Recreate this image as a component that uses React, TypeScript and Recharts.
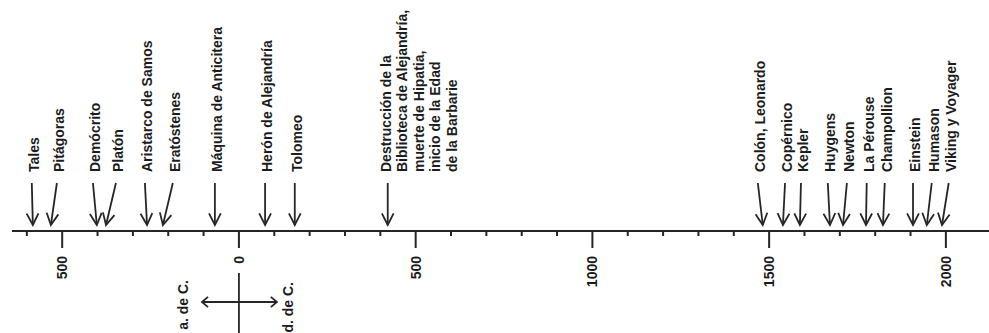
import { ComposedChart, XAxis, YAxis, ReferenceLine } from "recharts";

// events on the timeline (negative = a. de C.)
const EVENT_LABELS: string[][] = [
  ["Tales"],
  ["Pitágoras"],
  ["Demócrito"],
  ["Platón"],
  ["Aristarco de Samos"],
  ["Eratóstenes"],
  ["Máquina de Anticitera"],
  ["Herón de Alejandría"],
  ["Tolomeo"],
  ["Destrucción de la", "Biblioteca de Alejandría,", "muerte de Hipatia,", "inicio de la Edad", "de la Barbarie"],
  ["Colón, Leonardo"],
  ["Copérnico"],
  ["Kepler"],
  ["Huygens"],
  ["Newton"],
  ["La Pérouse"],
  ["Champollion"],
  ["Einstein"],
  ["Humason"],
  ["Viking y Voyager"],
];
// year the arrow points at
const EVENT_YEARS = [-583, -532, -402, -376, -260, -215, -68, 74, 158, 421, 1482, 1539, 1587, 1672, 1709, 1774, 1822, 1907, 1946, 1989];
// year where the label (and arrow tail) sits
const LABEL_YEARS = [-586, -515, -413, -348, -266, -187, -68, 74, 158, 421, 1468, 1545, 1590, 1666, 1720, 1776, 1827, 1907, 1960, 2008];

const TICK_YEARS = [-600, -500, -400, -300, -200, -100, 0, 100, 200, 300, 400, 500, 600, 700, 800, 900, 1000, 1100, 1200, 1300, 1400, 1500, 1600, 1700, 1800, 1900, 2000];
const DOMAIN: [number, number] = [-642, 2122];

const INK = "#262626";
const FONT = "'Liberation Sans', Arial, Helvetica, sans-serif";

const TIP_Y = 6;
const TAIL_Y = 48;

const data = EVENT_YEARS.map((year, i) => ({ year, labelYear: LABEL_YEARS[i], lines: EVENT_LABELS[i] }));

function head(x1: number, y1: number, x2: number, y2: number, len = 13, spread = 0.47) {
  const a = Math.atan2(y1 - y2, x1 - x2);
  const p1 = [x2 + len * Math.cos(a + spread), y2 + len * Math.sin(a + spread)];
  const p2 = [x2 + len * Math.cos(a - spread), y2 + len * Math.sin(a - spread)];
  return `M${p1[0]},${p1[1]} L${x2},${y2} L${p2[0]},${p2[1]}`;
}

function Arrow(props: any) {
  const { x1, y1, x2, y2, lines } = props;
  if (x1 == null) return null;
  const dx = lines.length > 1 ? -2 : 2;
  return (
    <g>
      <line x1={x1} y1={y1} x2={x2} y2={y2} stroke={INK} strokeWidth={1.8} />
      <path d={head(x1, y1, x2, y2)} fill="none" stroke={INK} strokeWidth={1.8} />
      <g transform={`translate(${x1 + dx},${y1 - 11}) rotate(-90)`}>
        {lines.map((l: string, i: number) => (
          <text key={i} x={0} y={i * 16.5} dy="0.35em" textAnchor="start" fontFamily={FONT} fontWeight="bold" fontSize={14} fill="#1c1c1c">
            {l}
          </text>
        ))}
      </g>
    </g>
  );
}

function Era({ x, y }: { x: number; y: number }) {
  const hy = y + 71;
  return (
    <g stroke={INK} strokeWidth={1.8} fill="none">
      <line x1={x} y1={y + 42} x2={x} y2={y + 104} />
      <line x1={x - 37} y1={hy} x2={x + 38} y2={hy} />
      <path d={head(x - 20, hy, x - 37, hy, 8, 0.7)} />
      <path d={head(x + 20, hy, x + 38, hy, 8, 0.7)} />
      <text transform={`translate(${x - 56},${y + 49}) rotate(-90)`} dy="0.35em" textAnchor="end" stroke="none" fill="#1c1c1c" fontFamily={FONT} fontWeight="bold" fontSize={14}>a. de C.</text>
      <text transform={`translate(${x + 49},${y + 51}) rotate(-90)`} dy="0.35em" textAnchor="end" stroke="none" fill="#1c1c1c" fontFamily={FONT} fontWeight="bold" fontSize={14}>d. de C.</text>
    </g>
  );
}

function YearTick(props: any) {
  const { x, y, payload } = props;
  const v = payload.value;
  const major = v % 500 === 0;
  return (
    <g>
      <line x1={x} y1={y} x2={x} y2={y + (major ? 17 : 5)} stroke={INK} strokeWidth={2} />
      {major && (
        <text transform={`translate(${x},${y + 25}) rotate(-90)`} dy="0.35em" textAnchor="end" fontFamily={FONT} fontWeight="bold" fontSize={14} fill="#1c1c1c">
          {Math.abs(v)}
        </text>
      )}
      {v === 0 && <Era x={x} y={y} />}
    </g>
  );
}

export default function App() {
  return (
    <div style={{ position: "absolute", left: 0, top: 0, background: "#fff" }}>
      <ComposedChart width={989} height={333} data={data} margin={{ top: 0, right: 0, bottom: 0, left: 12 }}>
        <XAxis
          type="number"
          dataKey="year"
          domain={DOMAIN}
          allowDataOverflow
          ticks={TICK_YEARS}
          interval={0}
          height={102}
          tickSize={0}
          tickMargin={0}
          tickLine={false}
          axisLine={{ stroke: INK, strokeWidth: 2 }}
          tick={<YearTick />}
        />
        <YAxis type="number" domain={[0, 231]} allowDataOverflow hide width={0} />
        {data.map((d, i) => (
          <ReferenceLine
            key={i}
            segment={[{ x: d.labelYear, y: TAIL_Y }, { x: d.year, y: TIP_Y }]}
            ifOverflow="visible"
            shape={(p: any) => <Arrow {...p} lines={d.lines} />}
          />
        ))}
      </ComposedChart>
    </div>
  );
}
